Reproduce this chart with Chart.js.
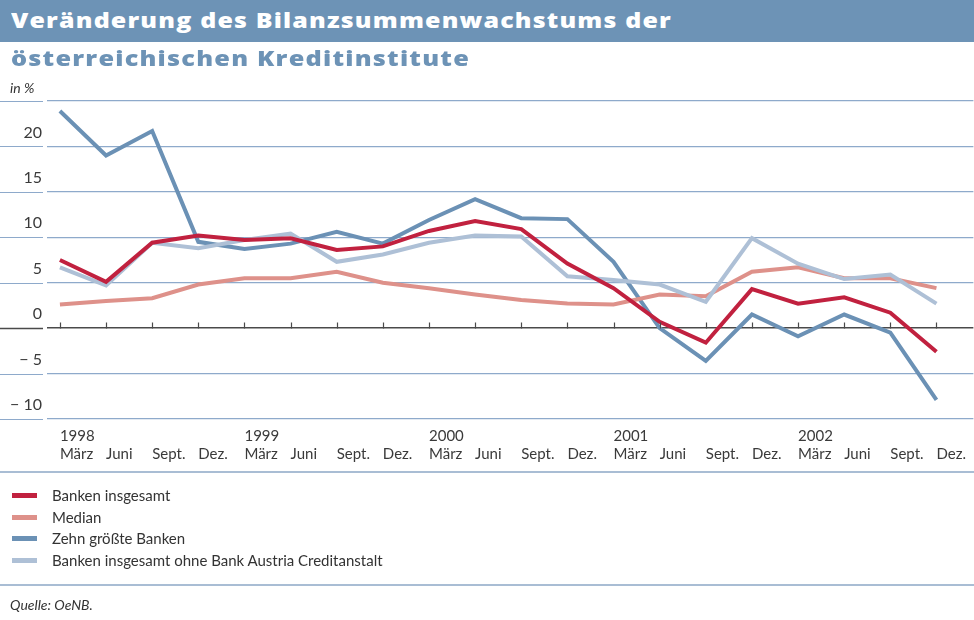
<!DOCTYPE html>
<html>
<head>
<meta charset="utf-8">
<script src="https://cdn.jsdelivr.net/npm/chart.js@4"></script>
<style>
  html, body { margin:0; padding:0; background:#fff; }
  body { width:974px; height:620px; position:relative; overflow:hidden; font-family: Lato, "Open Sans", sans-serif; }
  #c { position:absolute; left:0; top:0; }
  .band { position:absolute; left:0; top:0; width:974px; height:42px; background:#6D93B6; }
  .t1, .t2 { position:absolute; left:11px; font-family:"Open Sans", Lato, sans-serif; font-weight:800; font-size:21px; letter-spacing:1px; white-space:nowrap; line-height:28px; transform-origin:0 50%; }
  .t1 { top:6px; color:#fff; }
  .t2 { top:44px; color:#6D93B6; }
  .unit { position:absolute; left:10px; top:79px; font-style:italic; font-size:14px; color:#333; }
  .sep { position:absolute; left:0; width:974px; height:2px; background:#A9BDD4; }
  .legend { position:absolute; left:0; top:485px; }
  .li { position:relative; height:21.7px; }
  .sw { position:absolute; left:12px; top:8px; width:25px; height:5px; }
  .lt { position:absolute; left:52px; top:0; font-size:15px; color:#333; line-height:20px; white-space:nowrap; }
  .src { position:absolute; left:10px; top:596px; font-style:italic; font-size:14px; color:#333; }
</style>
</head>
<body>
<canvas id="c" width="974" height="620"></canvas>
<div class="band"></div>
<div class="t1" id="t1">Veränderung des Bilanzsummenwachstums der</div>
<div class="t2" id="t2">österreichischen Kreditinstitute</div>
<div class="unit">in %</div>
<div class="sep" style="top:471px"></div>
<div class="legend" id="legend"></div>
<div class="sep" style="top:584px"></div>
<div class="src">Quelle: OeNB.</div>
<script>
// ---- data ----
const years = ['1998','','','','1999','','','','2000','','','','2001','','','','2002','','',''];
const months = ['März','Juni','Sept.','Dez.','März','Juni','Sept.','Dez.','März','Juni','Sept.','Dez.','März','Juni','Sept.','Dez.','März','Juni','Sept.','Dez.'];

const bankenInsgesamt = [7.5, 5.1, 9.4, 10.2, 9.7, 9.9, 8.6, 9.0, 10.7, 11.8, 10.9, 7.1, 4.4, 0.7, -1.6, 4.3, 2.7, 3.4, 1.7, -2.6];
const median          = [2.6, 3.0, 3.3, 4.8, 5.5, 5.5, 6.2, 5.0, 4.4, 3.7, 3.1, 2.7, 2.6, 3.7, 3.5, 6.2, 6.7, 5.5, 5.5, 4.4];
const zehnGroesste    = [23.9, 19.0, 21.7, 9.5, 8.7, 9.3, 10.6, 9.3, 11.9, 14.2, 12.1, 12.0, 7.3, 0.0, -3.6, 1.5, -0.9, 1.5, -0.5, -7.9];
const ohneBACA        = [6.7, 4.7, 9.4, 8.8, 9.7, 10.4, 7.3, 8.1, 9.4, 10.2, 10.1, 5.7, 5.3, 4.8, 2.9, 9.9, 7.1, 5.4, 5.9, 2.7];

const seriesNames = ['Banken insgesamt', 'Median', 'Zehn größte Banken', 'Banken insgesamt ohne Bank Austria Creditanstalt'];
const seriesColors = ['#C1213F', '#DE918A', '#6B91B5', '#AEC0D6'];
const seriesValues = [bankenInsgesamt, median, zehnGroesste, ohneBACA];
const seriesOrder = [0, 2, 3, 1];

const yTicks = [-10, -5, 0, 5, 10, 15, 20, 25];

// ---- title width fit (horizontal stretch like the wide original face) ----
function fitWidth(el, target) {
  const w0 = el.getBoundingClientRect().width;
  el.style.transform = 'scaleX(' + (target / w0) + ')';
}
fitWidth(document.getElementById('t1'), 661);
fitWidth(document.getElementById('t2'), 459);

// ---- legend ----
const leg = document.getElementById('legend');
seriesNames.forEach((n, i) => {
  const d = document.createElement('div'); d.className = 'li';
  d.innerHTML = '<div class="sw" style="background:' + seriesColors[i] + '"></div><div class="lt">' + n + '</div>';
  leg.appendChild(d);
});

// ---- plugin: left grid stubs + zero-line ticks ----
const decor = {
  id: 'decor',
  afterDraw(chart) {
    const ctx = chart.ctx, y = chart.scales.y, x = chart.scales.x;
    ctx.save();
    yTicks.forEach(v => {
      const py = Math.round(y.getPixelForValue(v)) + 0.5;
      ctx.strokeStyle = v === 0 ? '#4a4a4a' : '#8EAACB';
      ctx.lineWidth = v === 0 ? 1.5 : 1.2;
      ctx.beginPath(); ctx.moveTo(0, py); ctx.lineTo(43, py); ctx.stroke();
    });
    const y0 = Math.round(y.getPixelForValue(0)) + 0.5;
    ctx.strokeStyle = '#4a4a4a'; ctx.lineWidth = 1.2;
    months.forEach((m, i) => {
      const px = Math.round(x.getPixelForValue(i)) + 0.5;
      ctx.beginPath(); ctx.moveTo(px, y0); ctx.lineTo(px, y0 - 6); ctx.stroke();
    });
    ctx.restore();
  }
};

new Chart(document.getElementById('c'), {
  type: 'line',
  data: {
    datasets: seriesValues.map((vals, i) => ({
      label: seriesNames[i],
      data: vals.map((v, k) => ({ x: k, y: v })),
      borderColor: seriesColors[i],
      backgroundColor: seriesColors[i],
      borderWidth: 4,
      pointRadius: 0,
      tension: 0,
      order: seriesOrder[i],
      borderCapStyle: 'butt',
      borderJoinStyle: 'miter'
    }))
  },
  options: {
    responsive: false,
    animation: false,
    events: [],
    layout: { padding: { top: 101, bottom: 148, left: 0, right: 0 } },
    plugins: { legend: { display: false }, tooltip: { enabled: false } },
    scales: {
      x: {
        type: 'linear', min: -0.28, max: 19.8,
        afterBuildTicks: s => { s.ticks = months.map((m, i) => ({ value: i })); },
        afterFit: s => { s.height = 53; },
        grid: { display: false, drawTicks: false },
        border: { display: false },
        ticks: {
          autoSkip: false, maxRotation: 0, minRotation: 0,
          align: 'start', padding: 8,
          color: '#3a3a3a',
          font: { family: 'Lato', size: 15, lineHeight: 1.2 },
          callback: (v, i) => [years[i], months[i]]
        }
      },
      y: {
        min: -10, max: 25,
        afterBuildTicks: s => { s.ticks = yTicks.map(v => ({ value: v })); },
        afterFit: s => { s.width = 47; },
        grid: {
          drawTicks: false,
          color: c => (c.tick && c.tick.value === 0) ? '#4a4a4a' : '#8EAACB',
          lineWidth: c => (c.tick && c.tick.value === 0) ? 1.5 : 1.2
        },
        border: { display: false },
        ticks: {
          padding: 5, labelOffset: -14,
          color: '#3a3a3a',
          font: { family: 'Lato', size: 16 },
          callback: v => v === 25 ? '' : (v < 0 ? '\u2212 ' + Math.abs(v) : String(v))
        }
      }
    }
  },
  plugins: [decor]
});
</script>
</body>
</html>
